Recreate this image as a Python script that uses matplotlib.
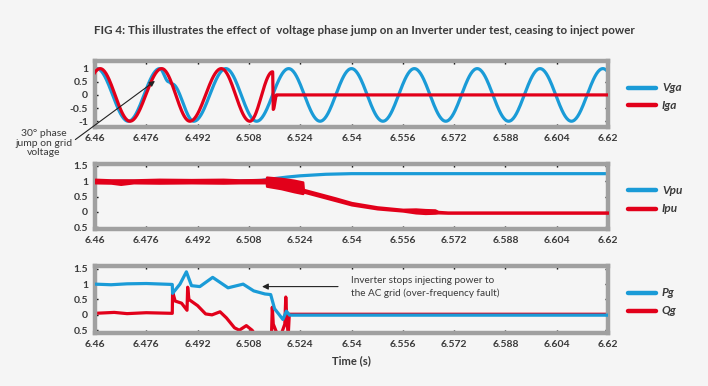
import numpy as np
import matplotlib
matplotlib.use("Agg")
import matplotlib.pyplot as plt
from matplotlib.lines import Line2D

plt.rcParams['font.family'] = ['Lato', 'DejaVu Sans']

# ---------------- data ----------------
title = "FIG 4: This illustrates the effect of  voltage phase jump on an Inverter under test, ceasing to inject power"

x_ticks = [6.46, 6.476, 6.492, 6.508, 6.524, 6.54, 6.556, 6.572, 6.588, 6.604, 6.62]
x_tick_labels = ["6.46", "6.476", "6.492", "6.508", "6.524", "6.54", "6.556", "6.572", "6.588", "6.604", "6.62"]

y1_ticks = [-1, -0.5, 0, 0.5, 1]
y1_tick_labels = ["-1", "-0.5", "0", "0.5", "1"]
y23_ticks = [-0.5, 0, 0.5, 1, 1.5]
y23_tick_labels = ["0.5", "0", "0.5", "1", "1.5"]

# Panel 1: waveform turning points (time, value)
vga_t = [6.4508, 6.4606, 6.4704, 6.4802, 6.4830, 6.4840, 6.4908, 6.5008, 6.5104, 6.5204,
         6.5302, 6.5400, 6.5498, 6.5596, 6.5694, 6.5792, 6.5890, 6.5988, 6.6086, 6.6184, 6.6282]
vga_v = [-1, 1, -1, 1, 0.5, 0.42, -1, 1, -1, 1, -1, 1, -1, 1, -1, 1, -1, 1, -1, 1, -1]

iga_t = [6.4521, 6.4616, 6.4709, 6.4808, 6.4896, 6.4994, 6.5083, 6.5154, 6.5156, 6.5166, 6.6200]
iga_v = [-1, 1, -1, 1, -1, 1, -1, 0.88, -0.55, 0.0, 0.0]

# Panel 2
vpu_t = [6.46, 6.50, 6.512, 6.516, 6.520, 6.524, 6.532, 6.540, 6.550, 6.62]
vpu_v = [1.0, 1.0, 1.03, 1.09, 1.14, 1.18, 1.23, 1.25, 1.25, 1.25]

ipu_t = [6.46, 6.465, 6.468, 6.472, 6.48, 6.49, 6.50, 6.505, 6.511, 6.5134, 6.5135, 6.518,
         6.522, 6.5248, 6.5250, 6.53, 6.535, 6.54, 6.548, 6.556, 6.560, 6.563, 6.566, 6.567, 6.57, 6.62]
ipu_hi = [1.07, 1.05, 1.05, 1.05, 1.07, 1.06, 1.07, 1.05, 1.06, 1.07, 1.14, 1.10,
          1.04, 0.98, 0.74, 0.60, 0.46, 0.31, 0.17, 0.09, 0.10, 0.08, 0.07, 0.02, 0.0, 0.0]
ipu_lo = [0.95, 0.94, 0.90, 0.95, 0.94, 0.95, 0.94, 0.95, 0.95, 0.95, 0.84, 0.76,
          0.66, 0.60, 0.65, 0.51, 0.37, 0.23, 0.10, 0.03, -0.03, -0.05, -0.04, -0.03, -0.04, -0.04]

# Panel 3
pg_t = [6.46, 6.465, 6.47, 6.476, 6.4841, 6.4842, 6.4865, 6.4885, 6.4901, 6.4927, 6.4967,
        6.5015, 6.5062, 6.5095, 6.5130, 6.5148, 6.5160, 6.5175, 6.5186, 6.5197, 6.5207, 6.62]
pg_v = [1.0, 0.98, 1.01, 1.02, 0.99, 0.7, 1.0, 1.4, 0.95, 0.92, 1.22,
        0.88, 1.0, 0.78, 0.68, 0.66, 0.2, 0.0, -0.15, 0.12, -0.01, -0.01]

qg_t = [6.46, 6.466, 6.47, 6.476, 6.4841, 6.4842, 6.4850, 6.4870, 6.4887, 6.4889, 6.4893,
        6.4920, 6.4945, 6.4965, 6.4990, 6.5010, 6.5035, 6.5050, 6.5072, 6.5090, 6.5110,
        6.5150, 6.5153, 6.5156, 6.5175, 6.5192, 6.5195, 6.5199, 6.5203, 6.5206, 6.5208, 6.62]
qg_v = [0.05, 0.08, 0.04, 0.07, 0.05, 0.75, 0.45, 0.38, 0.15, 0.9, 0.5,
        0.3, 0.03, 0.0, 0.1, -0.1, -0.42, -0.5, -0.35, -0.5, -0.8,
        -0.8, 0.25, -0.3, -0.8, -0.3, 0.58, -0.3, -0.6, 0.02, 0.02, 0.02]

legend_labels = [("Vga", "Iga"), ("Vpu", "Ipu"), ("Pg", "Qg")]


# ---------------- helpers ----------------
def smooth_path(tp, vp, n=40):
    """Half-cosine shaped segments between successive read turning points."""
    ts, vs = [], []
    for i in range(len(tp) - 1):
        s = np.linspace(0, 1, n, endpoint=False)
        w = (1 - np.cos(np.pi * s)) / 2
        ts.append(tp[i] + (tp[i + 1] - tp[i]) * s)
        vs.append(vp[i] + (vp[i + 1] - vp[i]) * w)
    ts.append([tp[-1]])
    vs.append([vp[-1]])
    return np.concatenate(ts), np.concatenate(vs)


BLUE = "#1a9bd7"
RED = "#e2001a"
GRAY = "#a0a0a0"
BG = "#f5f5f5"
TXT = "#3a3a3a"

fig = plt.figure(figsize=(7.08, 3.86), dpi=100, facecolor=BG)
W, H = 708.0, 386.0

def add_axes(top, bottom):
    return fig.add_axes([95 / W, 1 - bottom / H, 513 / W, (bottom - top) / H])

ax1 = add_axes(61, 127)
ax2 = add_axes(163.7, 229)
ax3 = add_axes(266, 333.3)

for ax in (ax1, ax2, ax3):
    ax.set_facecolor(BG)
    ax.set_xlim(6.46, 6.62)
    ax.set_xticks(x_ticks)
    ax.set_xticklabels(x_tick_labels)
    for sp in ax.spines.values():
        sp.set_color(GRAY)
        sp.set_linewidth(3.2)
    ax.tick_params(direction='in', length=2.5, width=1, color='black',
                   top=True, right=True, labelsize=7.5, labelcolor=TXT, pad=5)
    for lab in ax.get_xticklabels() + ax.get_yticklabels():
        lab.set_fontweight('bold')

ax1.set_ylim(-1.22, 1.29)
ax1.set_yticks(y1_ticks)
ax1.set_yticklabels(y1_tick_labels, fontweight='bold')
ax2.set_ylim(-0.555, 1.575)
ax3.set_ylim(-0.6, 1.59)
for ax in (ax2, ax3):
    ax.set_yticks(y23_ticks)
    ax.set_yticklabels(y23_tick_labels, fontweight='bold')

LW = 2.3
# Panel 1
t, v = smooth_path(vga_t, vga_v)
ax1.plot(t, v, color=BLUE, lw=LW, zorder=2)
t, v = smooth_path(iga_t, iga_v)
ax1.plot(t, v, color=RED, lw=LW, zorder=3)

# Panel 2
ax2.plot(vpu_t, vpu_v, color=BLUE, lw=LW, zorder=2)
ax2.fill_between(ipu_t, ipu_lo, ipu_hi, color=RED, lw=1.6, edgecolor=RED, zorder=3)

# Panel 3
ax3.plot(qg_t, qg_v, color=RED, lw=LW, zorder=2)
ax3.plot(pg_t, pg_v, color=BLUE, lw=LW, zorder=3)

# Legends (figure coordinates)
legend_y = [(87.7, 105), (190, 209), (292.7, 310.7)]
for (lb, lr), (yb, yr) in zip(legend_labels, legend_y):
    for lab, yy, col in ((lb, yb, BLUE), (lr, yr, RED)):
        fig.add_artist(Line2D([628 / W, 656 / W], [1 - yy / H, 1 - yy / H],
                              color=col, lw=3.2, solid_capstyle='round',
                              transform=fig.transFigure))
        fig.text(662 / W, 1 - yy / H, lab, fontsize=8.5, fontweight='bold',
                 fontstyle='italic', color=TXT, va='center', ha='left')

# Title
fig.text(94 / W, 1 - 30 / H, title, fontsize=8.4, fontweight='bold', color=TXT,
         va='center', ha='left')

# Annotations
ax1.annotate("30° phase\njump on grid\nvoltage", xy=(6.4787, 0.53),
             xytext=(44 / W, 1 - 143 / H), textcoords='figure fraction',
             fontsize=7.5, color=TXT, ha='center', va='center', linespacing=1.05,
             arrowprops=dict(arrowstyle='-|>', color='#222222', lw=0.8,
                             mutation_scale=8, shrinkA=0, shrinkB=0,
                             relpos=(1.0, 0.55)))

ax3.annotate("", xy=(6.5121, 0.92), xytext=(6.5358, 0.92),
             arrowprops=dict(arrowstyle='-|>', color='#222222', lw=0.8,
                             mutation_scale=9, shrinkA=0, shrinkB=0))
fig.text(351 / W, 1 - 287 / H, "Inverter stops injecting power to\nthe AC grid (over-frequency fault)",
         fontsize=7.2, color=TXT, ha='left', va='center', linespacing=1.35)

fig.text(351.5 / W, 1 - 361 / H, "Time (s)", fontsize=8, fontweight='bold',
         color=TXT, ha='center', va='center')

fig.savefig("out.png", dpi=100, facecolor=BG)
